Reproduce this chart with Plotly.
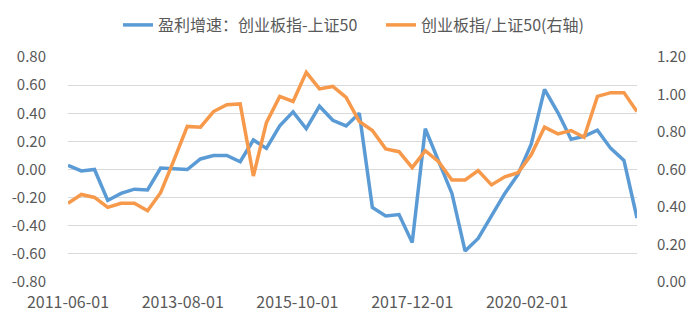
import plotly.graph_objects as go

# Quarterly observation dates
dates = [
    "2011-06-01", "2011-09-01", "2011-12-01", "2012-03-01",
    "2012-06-01", "2012-09-01", "2012-12-01", "2013-03-01",
    "2013-06-01", "2013-09-01", "2013-12-01", "2014-03-01",
    "2014-06-01", "2014-09-01", "2014-12-01", "2015-03-01",
    "2015-06-01", "2015-09-01", "2015-12-01", "2016-03-01",
    "2016-06-01", "2016-09-01", "2016-12-01", "2017-03-01",
    "2017-06-01", "2017-09-01", "2017-12-01", "2018-03-01",
    "2018-06-01", "2018-09-01", "2018-12-01", "2019-03-01",
    "2019-06-01", "2019-09-01", "2019-12-01", "2020-03-01",
    "2020-06-01", "2020-09-01", "2020-12-01", "2021-03-01",
    "2021-06-01", "2021-09-01", "2021-12-01", "2022-03-01",
]

# Earnings growth spread: ChiNext minus SSE 50 (left axis)
growth_spread = [
    0.03, -0.01, 0.00, -0.22, -0.17, -0.14, -0.145, 0.01,
    0.005, 0.00, 0.075, 0.10, 0.10, 0.055, 0.21, 0.15,
    0.31, 0.41, 0.29, 0.45, 0.35, 0.31, 0.40, -0.27,
    -0.33, -0.32, -0.52, 0.29, 0.06, -0.17, -0.58, -0.49,
    -0.33, -0.17, -0.035, 0.18, 0.57, 0.405, 0.215, 0.235,
    0.28, 0.15, 0.065, -0.345,
]

# ChiNext / SSE 50 ratio (right axis)
index_ratio = [
    0.42, 0.467, 0.451, 0.398, 0.42, 0.42, 0.38, 0.476,
    0.65, 0.83, 0.826, 0.909, 0.945, 0.95, 0.565, 0.85,
    0.99, 0.963, 1.118, 1.03, 1.043, 0.985, 0.856, 0.808,
    0.71, 0.695, 0.61, 0.70, 0.642, 0.544, 0.544, 0.594,
    0.518, 0.561, 0.583, 0.678, 0.826, 0.79, 0.808, 0.772,
    0.99, 1.01, 1.01, 0.909,
]

x_tick_dates = ["2011-06-01", "2013-08-01", "2015-10-01", "2017-12-01", "2020-02-01"]
left_ticks = [-0.8, -0.6, -0.4, -0.2, 0.0, 0.2, 0.4, 0.6, 0.8]
right_ticks = [0.0, 0.2, 0.4, 0.6, 0.8, 1.0, 1.2]

name_growth = "盈利增速：创业板指-上证50"
name_ratio = "创业板指/上证50(右轴)"

FONT = "Noto Sans CJK SC"
TXT = "#595959"

fig = go.Figure()
fig.add_trace(go.Scatter(
    x=dates, y=growth_spread, name=name_growth, mode="lines",
    line=dict(color="#5B9BD5", width=3.5), yaxis="y",
))
fig.add_trace(go.Scatter(
    x=dates, y=index_ratio, name=name_ratio, mode="lines",
    line=dict(color="#F7994B", width=3.5), yaxis="y2",
))

fig.update_layout(
    width=700, height=324,
    margin=dict(l=68, r=63, t=57, b=42, autoexpand=False),
    paper_bgcolor="white", plot_bgcolor="white",
    font=dict(family=FONT, color=TXT, size=14),
    showlegend=True,
    legend=dict(
        orientation="h", x=(118 - 68) / 569, xanchor="left",
        y=1 + 32 / 225, yanchor="middle", yref="paper",
        font=dict(size=16, color=TXT),
        itemwidth=30, entrywidth=218, entrywidthmode="pixels",
        bgcolor="rgba(0,0,0,0)",
    ),
    xaxis=dict(
        type="date",
        range=["2011-06-01", "2022-03-01"],
        tickvals=x_tick_dates, ticktext=x_tick_dates,
        showgrid=False, zeroline=False, showline=False,
        ticks="outside", ticklen=6, tickcolor="rgba(0,0,0,0)",
        tickfont=dict(size=16, color=TXT),
    ),
    yaxis=dict(
        range=[-0.8, 0.8], tickvals=left_ticks,
        ticktext=[f"{v:.2f}" for v in left_ticks],
        showgrid=True, gridcolor="#D9D9D9", gridwidth=1.3,
        zeroline=False, showline=False,
        ticks="outside", ticklen=18, tickcolor="rgba(0,0,0,0)",
        tickfont=dict(size=15, color=TXT),
    ),
    yaxis2=dict(
        range=[0.0, 1.2], tickvals=right_ticks,
        ticktext=[f"{v:.2f}" for v in right_ticks],
        overlaying="y", side="right",
        showgrid=False, zeroline=False, showline=False,
        ticks="outside", ticklen=16, tickcolor="rgba(0,0,0,0)",
        tickfont=dict(size=15, color=TXT),
    ),
)

fig.write_html("out.html")
